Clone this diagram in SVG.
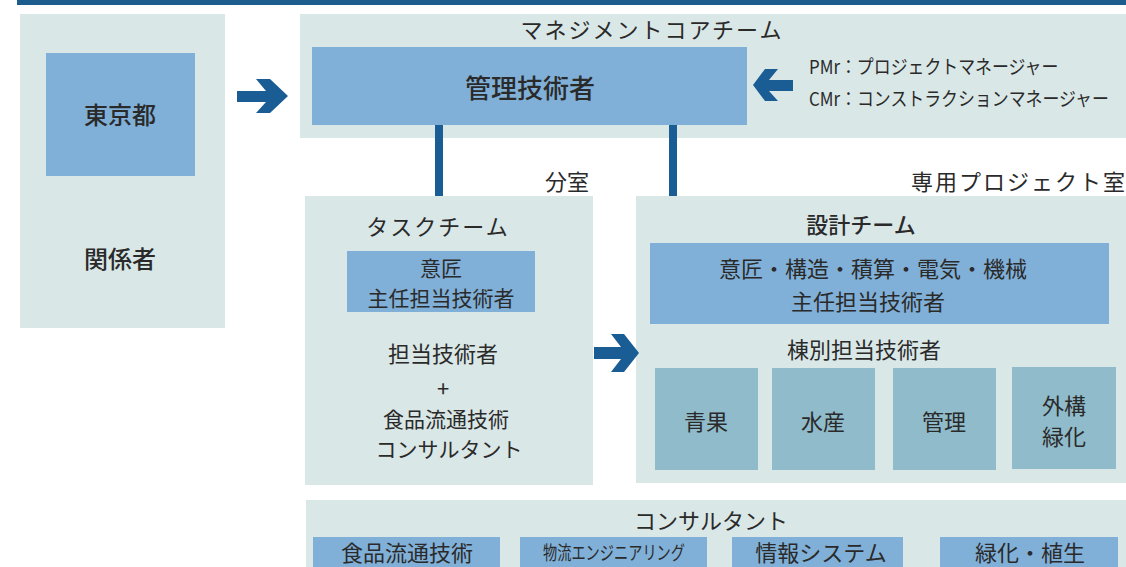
<svg xmlns="http://www.w3.org/2000/svg" width="1126" height="567" viewBox="0 0 1126 567">
<style>
.bg{fill:#d9e7e7}
.blue{fill:#80b0d7}
.teal{fill:#90bbcb}
.arr{fill:#1a5d95}
text{font-family:"Noto Sans CJK JP","Noto Sans",sans-serif;fill:#2a2a2a;text-anchor:middle;dominant-baseline:central}
.t21{font-size:21px}
.t22{font-size:22px}
.t24{font-size:24px}
.sp{letter-spacing:2px}
.m{font-weight:500}
.leg{font-size:19px;text-anchor:start}
</style>
<rect width="1126" height="567" fill="#ffffff"/>
<rect x="17" y="0" width="1109" height="5" fill="#1d5d8d"/>

<g id="stakeholders">
<rect class="bg" x="20" y="14" width="205" height="314"/>
<rect class="blue" x="46" y="53" width="149" height="123"/>
<text class="t24 m" x="120" y="113">東京都</text>
<text class="t24 m" x="120" y="257">関係者</text>
</g>

<g id="core-team">
<rect class="bg" x="300" y="14" width="826" height="124"/>
<text class="t22 sp" x="652" y="28">マネジメントコアチーム</text>
<rect class="blue" x="312" y="47" width="435" height="78"/>
<text class="m" x="530" y="86" style="font-size:26px">管理技術者</text>
<text class="leg" transform="translate(809,66) scale(0.89,1)" x="0" y="0">PMr：プロジェクトマネージャー</text>
<text class="leg" transform="translate(809,98) scale(0.89,1)" x="0" y="0">CMr：コンストラクションマネージャー</text>
</g>

<g id="room-labels">
<text class="t22" x="567" y="180">分室</text>
<text class="t22 sp" x="911" y="180" style="text-anchor:start">専用プロジェクト室</text>
</g>

<g id="task-team">
<rect class="bg" x="305" y="196" width="288" height="289"/>
<text class="t22 sp" x="438" y="225">タスクチーム</text>
<rect class="blue" x="347" y="251" width="188" height="61"/>
<text class="t21" x="441" y="267">意匠</text>
<text class="t21" x="441" y="297">主任担当技術者</text>
<text class="t22" x="443" y="352">担当技術者</text>
<text class="t22" x="443" y="387">+</text>
<text class="t21" x="446" y="418">食品流通技術</text>
<text class="t21" x="449" y="448">コンサルタント</text>
</g>

<g id="design-team">
<rect class="bg" x="636" y="196" width="490" height="287"/>
<text class="t22 m" x="861" y="223">設計チーム</text>
<rect class="blue" x="650" y="243" width="459" height="81"/>
<text class="t22" x="873" y="267">意匠・構造・積算・電気・機械</text>
<text class="t22" x="868" y="300">主任担当技術者</text>
<text class="t22" x="864" y="348">棟別担当技術者</text>
<g id="b-seika"><rect class="teal" x="655" y="368" width="103" height="102"/><text class="t22" x="706" y="420">青果</text></g>
<g id="b-suisan"><rect class="teal" x="772" y="368" width="103" height="102"/><text class="t22" x="823" y="420">水産</text></g>
<g id="b-kanri"><rect class="teal" x="893" y="368" width="103" height="102"/><text class="t22" x="944" y="420">管理</text></g>
<g id="b-gaikou"><rect class="teal" x="1012" y="367" width="104" height="102"/><text class="t22" x="1064" y="404">外構</text><text class="t22" x="1064" y="435">緑化</text></g>
</g>

<g id="consultants">
<rect class="bg" x="306" y="500" width="820" height="67"/>
<text class="t22" x="711" y="519">コンサルタント</text>
<rect class="blue" x="313" y="537" width="187" height="30"/>
<text x="407" y="551" style="font-size:22px">食品流通技術</text>
<rect class="blue" x="520" y="537" width="187" height="30"/>
<text x="614" y="551" style="font-size:19px" textLength="142" lengthAdjust="spacingAndGlyphs">物流エンジニアリング</text>
<rect class="blue" x="732" y="537" width="171" height="30"/>
<text x="821" y="551" style="font-size:22px">情報システム</text>
<rect class="blue" x="940" y="537" width="178" height="30"/>
<text x="1030" y="551" style="font-size:22px">緑化・植生</text>
</g>

<g id="connectors">
<path class="arr" d="M237,91 L266,91 L256,79 L270,79 L288,96 L270,113 L256,113 L266,102 L237,102 Z"/>
<path class="arr" d="M793,80 L769,80 L778,69 L765,69 L753,85 L765,101 L778,101 L769,91 L793,91 Z"/>
<path class="arr" d="M594,347 L621,347 L611,334 L624,334 L639,353 L624,372 L611,372 L621,359 L594,359 Z"/>
<rect class="arr" x="435" y="125" width="8" height="71"/>
<rect class="arr" x="669" y="125" width="8" height="71"/>
</g>
</svg>
